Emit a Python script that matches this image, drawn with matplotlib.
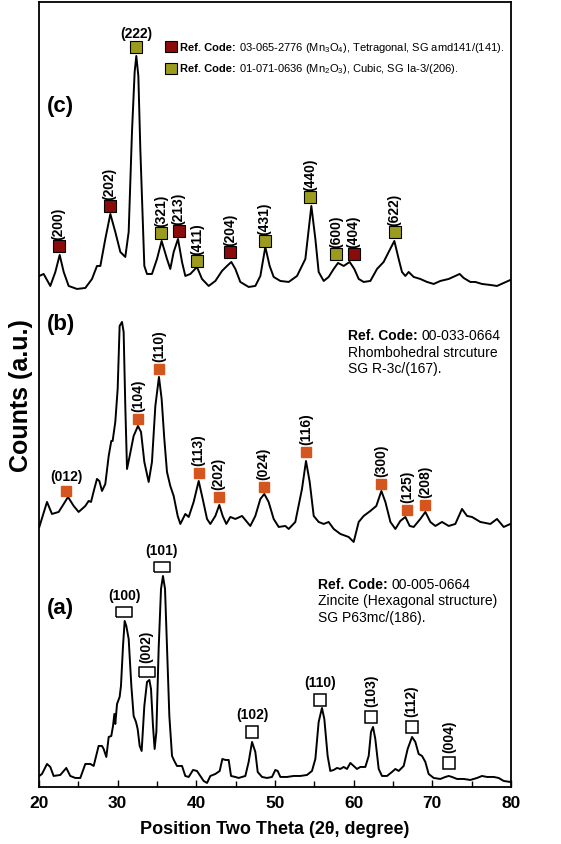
"""XRD patterns: (a) zincite, (b) rhombohedral phase, (c) Mn3O4 / Mn2O3."""

import matplotlib

matplotlib.use("Agg")
import matplotlib.pyplot as plt
from matplotlib.offsetbox import (AnchoredOffsetbox, DrawingArea, HPacker,
                                  TextArea, VPacker)
from matplotlib.patches import Rectangle

# ---- pattern (a): ZnO (2theta, counts a.u.) -------------------------------
tt_a = [20.04, 20.38, 21.02, 21.44, 21.86, 22.71, 23.47, 23.98, 24.62, 25.25,
        25.89, 26.53, 26.95, 27.58, 28.01, 28.22, 28.56, 28.86, 29.19, 29.41,
        29.58, 29.70, 29.92, 30.25, 30.42, 30.68, 30.89, 31.10, 31.40, 31.74,
        32.03, 32.33, 32.54, 32.80, 33.05, 33.39, 33.73, 34.03, 34.24, 34.49,
        34.70, 34.92, 35.21, 35.51, 35.76, 36.02, 36.27, 36.57, 36.91, 37.20,
        37.54, 38.18, 38.60, 39.03, 39.58, 40.08, 40.51, 40.93, 41.36, 41.78,
        42.42, 42.97, 43.31, 43.69, 44.11, 44.41, 44.96, 45.38, 46.23, 46.65,
        47.08, 47.50, 47.80, 48.35, 48.98, 49.62, 50.04, 50.34, 50.68, 51.53,
        52.37, 53.22, 54.07, 54.70, 55.13, 55.55, 55.97, 56.27, 56.69, 57.03,
        57.46, 57.88, 58.31, 58.73, 59.15, 59.58, 60.00, 60.42, 60.85, 61.48,
        61.91, 62.20, 62.46, 62.75, 63.18, 63.60, 64.24, 64.87, 65.30, 65.72,
        66.36, 66.86, 67.42, 67.84, 68.26, 68.69, 69.11, 69.53, 70.17, 71.02,
        71.65, 72.08, 72.50, 73.14, 73.98, 74.83, 75.68, 76.31, 76.95, 77.80,
        78.43, 79.07, 79.92]
int_a = [23, 25, 35, 32, 23, 24, 31, 23, 21, 21,
         35, 35, 33, 53, 53, 50, 42, 62, 63, 73,
         85, 75, 95, 102, 113, 153, 178, 173, 160, 113,
         83, 77, 70, 53, 48, 93, 117, 119, 110, 73,
         50, 67, 150, 210, 223, 210, 153, 83, 43, 38,
         33, 33, 23, 22, 29, 28, 23, 18, 16, 23,
         25, 28, 40, 39, 39, 23, 22, 21, 23, 37,
         57, 47, 27, 22, 21, 22, 29, 28, 22, 22,
         23, 23, 24, 28, 40, 77, 91, 80, 43, 28,
         29, 31, 30, 32, 30, 36, 33, 30, 32, 32,
         43, 67, 72, 60, 30, 23, 23, 27, 30, 28,
         33, 50, 62, 57, 45, 43, 37, 25, 21, 20,
         22, 23, 22, 20, 20, 19, 21, 23, 22, 22,
         21, 18, 17]

# ---- pattern (b) -----------------------------------------------------------
tt_b = [20.04, 21.02, 21.65, 22.50, 23.14, 23.69, 24.41, 25.04, 25.89, 26.31,
        26.61, 27.03, 27.37, 27.67, 28.01, 28.43, 28.86, 29.19, 29.36, 29.70,
        30.00, 30.25, 30.55, 30.76, 30.97, 31.19, 31.53, 32.03, 32.58, 32.97,
        33.39, 33.94, 34.36, 34.79, 35.25, 35.59, 35.93, 36.27, 36.69, 37.12,
        37.63, 37.97, 38.60, 39.03, 39.66, 40.30, 40.81, 41.36, 41.78, 42.42,
        42.92, 43.35, 43.81, 44.32, 44.96, 45.81, 46.44, 46.86, 47.50, 48.14,
        48.64, 49.19, 49.83, 50.47, 51.31, 51.74, 52.58, 53.43, 53.94, 54.41,
        54.92, 55.55, 56.19, 56.82, 57.46, 58.31, 59.36, 60.00, 60.64, 61.27,
        62.12, 62.88, 63.52, 64.03, 64.67, 65.30, 65.93, 66.57, 67.12, 67.63,
        68.47, 69.11, 69.75, 70.38, 71.23, 72.08, 72.92, 73.77, 74.41, 75.04,
        76.10, 77.37, 78.22, 79.07, 79.92]
int_b = [22, 47, 35, 37, 45, 52, 43, 37, 43, 48,
         47, 60, 70, 68, 58, 65, 93, 108, 108, 127,
         160, 223, 227, 217, 143, 80, 93, 113, 123, 117,
         87, 67, 87, 143, 172, 150, 110, 77, 63, 53,
         33, 25, 35, 32, 47, 68, 50, 30, 25, 33,
         44, 33, 25, 32, 30, 33, 27, 23, 33, 50,
         55, 47, 30, 22, 23, 20, 27, 60, 88, 67,
         33, 27, 25, 27, 20, 15, 12, 7, 27, 33,
         38, 43, 58, 47, 27, 20, 28, 32, 23, 22,
         30, 37, 27, 23, 27, 23, 25, 40, 33, 32,
         27, 25, 30, 22, 25]

# ---- pattern (c): Mn oxides ----------------------------------------------
tt_c = [20.04, 20.59, 21.44, 22.08, 22.63, 23.14, 23.77, 24.83, 25.89, 26.74,
        27.37, 27.80, 28.43, 29.07, 29.70, 30.34, 30.97, 31.40, 31.82, 32.16,
        32.37, 32.63, 32.88, 33.39, 33.73, 34.36, 35.00, 35.59, 36.27, 36.69,
        37.12, 37.67, 38.18, 38.60, 39.24, 40.08, 40.72, 41.57, 42.42, 43.26,
        43.90, 44.45, 44.96, 45.59, 46.65, 47.50, 48.14, 48.77, 49.32, 49.83,
        50.68, 51.74, 52.80, 53.86, 54.62, 55.13, 55.55, 56.19, 56.82, 57.46,
        58.01, 58.73, 59.49, 60.08, 60.64, 61.27, 62.12, 62.97, 63.81, 64.45,
        65.17, 65.72, 66.14, 66.57, 66.99, 67.63, 68.47, 69.32, 70.17, 71.02,
        72.08, 72.92, 73.47, 73.98, 74.83, 75.47, 76.31, 77.37, 78.22, 79.07,
        79.92]
int_c = [23, 25, 13, 27, 44, 27, 13, 10, 11, 20,
         33, 33, 60, 85, 67, 47, 42, 67, 167, 227,
         243, 223, 150, 33, 25, 25, 40, 58, 40, 30,
         47, 60, 37, 23, 25, 32, 20, 13, 18, 28,
         33, 37, 30, 17, 12, 13, 23, 52, 33, 22,
         18, 17, 23, 40, 93, 60, 27, 18, 22, 30,
         36, 33, 37, 30, 20, 17, 18, 30, 37, 47,
         58, 40, 27, 23, 27, 22, 20, 17, 15, 18,
         20, 23, 25, 21, 17, 17, 15, 14, 13, 16,
         19]

# ---- reference peak markers (hkl, 2theta, marker height) ------------------
hkl_a = ["(100)", "(002)", "(101)", "(102)", "(110)", "(103)", "(112)", "(004)"]
pk_a = [30.85, 33.69, 35.59, 47.08, 55.68, 62.20, 67.37, 72.16]
mk_a = [187, 127, 232, 67, 99, 82, 72, 36]

hkl_b = ["(012)", "(104)", "(110)", "(113)", "(202)", "(024)", "(116)",
         "(300)", "(125)", "(208)"]
pk_b = [23.47, 32.58, 35.25, 40.30, 42.84, 48.56, 53.98, 63.52, 66.78, 69.11]
mk_b = [58, 130, 180, 76, 52, 62, 97, 65, 39, 44]

hkl_c = ["(200)", "(202)", "(222)", "(321)", "(213)", "(411)", "(204)",
         "(431)", "(440)", "(600)", "(404)", "(622)"]
pk_c = [22.50, 28.98, 32.37, 35.51, 37.75, 40.08, 44.32, 48.69, 54.49,
        57.80, 60.00, 65.21]
mk_c = [53, 93, 252, 66, 68, 38, 47, 58, 102, 45, 45, 67]
phase_c = ["Mn3O4", "Mn3O4", "Mn2O3", "Mn2O3", "Mn3O4", "Mn2O3", "Mn3O4",
           "Mn2O3", "Mn2O3", "Mn2O3", "Mn3O4", "Mn2O3"]

RED = "#8b0b0b"
OLIVE = "#9b9b1e"
ORANGE = "#d4561e"
PHASE_COLOR = {"Mn3O4": RED, "Mn2O3": OLIVE}
OFFSET = {"a": 0, "b": 250, "c": 500}
HORIZONTAL = {"a": {"(100)", "(101)", "(102)", "(110)"},
              "b": {"(012)"},
              "c": {"(222)"}}
WIDE_A = {"(100)", "(002)", "(101)"}
RECT = [(-1.6, -1), (1.6, -1), (1.6, 1), (-1.6, 1), (-1.6, -1)]

plt.rcParams["font.family"] = ["Liberation Sans", "DejaVu Sans"]
plt.rcParams["mathtext.fontset"] = "custom"
plt.rcParams["mathtext.rm"] = "Liberation Sans"
plt.rcParams["mathtext.bf"] = "Liberation Sans:bold"


def label_peaks(ax, xs, ys, labels, base, gap, horizontal):
    for x, y, lab in zip(xs, ys, labels):
        ax.annotate(lab, (x, y + base), xytext=(0, gap), textcoords="offset points",
                    ha="center", va="bottom", rotation=0 if lab in horizontal else 90,
                    fontsize=10, fontweight="bold")


def ref_block(rows, fontsize, sep):
    """rows: (swatch colour or None, bold part or None, plain part)."""
    lines = []
    for swatch, bold, plain in rows:
        kids = []
        if swatch:
            da = DrawingArea(8, 8)
            da.add_artist(Rectangle((0, 0), 8, 8, fc=swatch, ec="k", lw=0.8))
            kids.append(da)
        if bold:
            kids.append(TextArea(bold, textprops=dict(fontsize=fontsize, fontweight="bold")))
        kids.append(TextArea(plain, textprops=dict(fontsize=fontsize)))
        lines.append(HPacker(children=kids, align="center", pad=0, sep=2.5))
    return VPacker(children=lines, align="left", pad=0, sep=sep)


def place(ax, box, x, y):
    anc = AnchoredOffsetbox(loc="upper left", child=box, pad=0, borderpad=0,
                            frameon=False, bbox_to_anchor=(x, y),
                            bbox_transform=ax.transAxes)
    ax.add_artist(anc)


fig = plt.figure(figsize=(5.61, 8.45), dpi=100)
ax = fig.add_axes([0.0695, 0.0675, 0.8414, 0.929])

for key, tt, inten in (("a", tt_a, int_a), ("b", tt_b, int_b), ("c", tt_c, int_c)):
    ax.plot(tt, [v + OFFSET[key] for v in inten], color="k", lw=1.4)

# (c) markers
for x, y, ph in zip(pk_c, mk_c, phase_c):
    ax.plot(x, y + OFFSET["c"], marker="s", ms=8.5, mfc=PHASE_COLOR[ph],
            mec="k", mew=0.8, ls="none")
label_peaks(ax, pk_c, mk_c, hkl_c, OFFSET["c"], 5.0, HORIZONTAL["c"])

# (b) markers
ax.plot(pk_b, [v + OFFSET["b"] for v in mk_b], marker="s", ms=6.5,
        mfc=ORANGE, mec=ORANGE, ls="none")
label_peaks(ax, pk_b, mk_b, hkl_b, OFFSET["b"], 5.5, HORIZONTAL["b"])

# (a) markers: open boxes, the three strong lines drawn as wide boxes
for x, y, lab in zip(pk_a, mk_a, hkl_a):
    wide = lab in WIDE_A
    ax.plot(x, y + OFFSET["a"], marker=RECT if wide else "s", ms=11.5 if wide else 9,
            mfc="white", mec="k", mew=1.1, ls="none")
    gap = 7.5 if wide else 8.0
    ax.annotate(lab, (x, y + OFFSET["a"]), xytext=(0, gap), textcoords="offset points",
                ha="center", va="bottom",
                rotation=0 if lab in HORIZONTAL["a"] else 90,
                fontsize=10, fontweight="bold")

# panel letters
for key, yv in (("c", 193), ("b", 225), ("a", 191)):
    ax.text(21.0, yv + OFFSET[key], f"({key})", fontsize=16, fontweight="bold",
            ha="left", va="center")

# reference-code blocks
place(ax, ref_block([
    (RED, "Ref. Code:", "03-065-2776 (Mn$_3$O$_4$), Tetragonal, SG amd141/(141)."),
    (OLIVE, "Ref. Code:", "01-071-0636 (Mn$_2$O$_3$), Cubic, SG Ia-3/(206)."),
], 8, 5.5), 0.268, 0.952)
place(ax, ref_block([
    (None, "Ref. Code:", "00-033-0664"),
    (None, None, "Rhombohedral strcuture"),
    (None, None, "SG R-3c/(167)."),
], 10, 2.0), 0.655, 0.585)
place(ax, ref_block([
    (None, "Ref. Code:", "00-005-0664"),
    (None, None, "Zincite (Hexagonal structure)"),
    (None, None, "SG P63mc/(186)."),
], 10, 2.0), 0.591, 0.268)

ax.set_xlim(20, 80)
ax.set_ylim(12, 797)
ax.set_xticks(range(20, 81, 10))
ax.set_xticks(range(25, 80, 10), minor=True)
ax.set_yticks([])
ax.tick_params(axis="x", which="both", direction="in", labelsize=12.5, pad=6, width=1)
ax.tick_params(axis="x", which="major", length=5)
ax.tick_params(axis="x", which="minor", length=4)
for lbl in ax.get_xticklabels():
    lbl.set_fontweight("bold")
for sp in ax.spines.values():
    sp.set_linewidth(1.3)

ax.set_xlabel("Position Two Theta (2\u03b8, degree)", fontsize=13, fontweight="bold",
              labelpad=7)
ax.set_ylabel("Counts (a.u.)", fontsize=18, fontweight="bold", labelpad=4)

fig.savefig("out.png", dpi=100)
plt.close(fig)
